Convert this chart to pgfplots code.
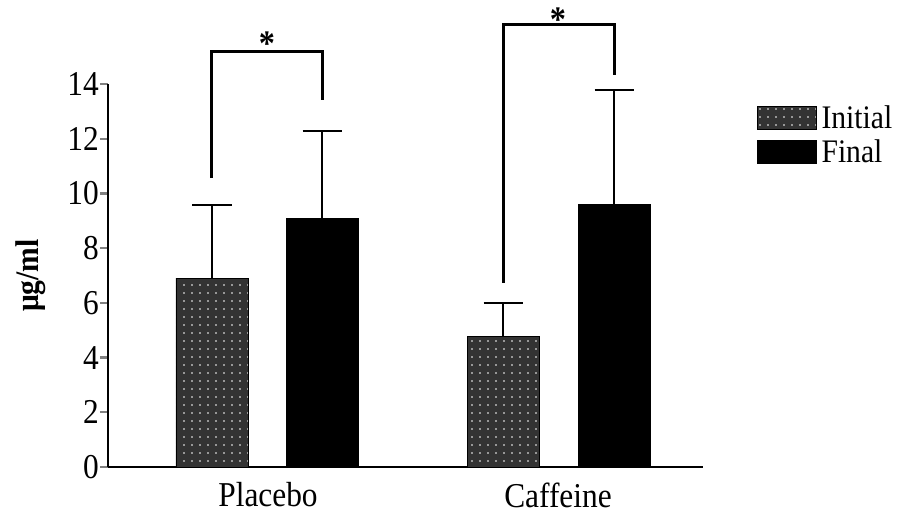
\documentclass[border=0pt]{standalone}
\usepackage{pgfplots}
\pgfplotsset{compat=1.18}
\usepackage{fontspec}
\setmainfont{Liberation Serif}[FakeStretch=0.9]
\usetikzlibrary{patterns.meta}
\definecolor{dkgray}{HTML}{333333}
\begin{document}
\begin{tikzpicture}
\begin{axis}[
  name=ax,
  scale only axis,
  width=595bp, height=383bp,
  xmin=0, xmax=595, ymin=0, ymax=14,
  axis x line=bottom, axis y line=left,
  axis line style={-, line width=2.4bp},
  clip=false,
  ytick={0,2,...,14},
  xtick={160,450},
  xticklabels={Placebo,Caffeine},
  xtick style={draw=none},
  ytick style={line width=2.4bp},
  tick align=outside,
  major tick length=8bp,
  /pgf/number format/assume math mode=true,
  tick label style={font=\fontsize{35}{40}\selectfont},
  yticklabel style={inner xsep=1bp},
  xticklabel style={yshift=-4bp},
  ylabel={\textbf{μg/ml}},
  ylabel style={font=\fontsize{33}{38}\selectfont, at={(axis description cs:-0.13,0.5)}, anchor=center},
  bar width=72,
  legend style={draw=none, fill=none, at={(axis description cs:1.09,0.95)}, anchor=north west,
    font=\fontsize{33}{36}\selectfont, inner sep=0pt, row sep=6bp,
    /tikz/every even column/.append style={column sep=4bp}},
  legend cell align=left,
  legend image code/.code={\draw[#1] (0bp,-11.5bp) rectangle (59bp,11.5bp);},
  error bars/y dir=plus,
  error bars/y explicit,
  error bars/error bar style={line width=1.3bp, black},
  error bars/error mark options={line width=2.5bp, mark size=19.5bp, black, rotate=90},
]
\addplot[ybar, bar shift=0pt, fill=dkgray, draw=black, line width=0.8bp,
  postaction={pattern={Dots[distance=8bp, radius=0.9bp]}, pattern color=white}]
  coordinates {(104,6.9) +- (0,2.68) (395,4.77) +- (0,1.22)};
\addlegendentry{\hspace{3bp}Initial}
\addplot[ybar, bar shift=0pt, fill=black, draw=black, line width=0.8bp]
  coordinates {(214,9.1) +- (0,3.18) (506,9.61) +- (0,4.17)};
\addlegendentry{\hspace{3bp}Final}
\addplot[line width=3bp, black, forget plot] coordinates {(104,10.56) (104,15.17) (214,15.17) (214,13.41)};
\addplot[line width=3bp, black, forget plot] coordinates {(395,6.73) (395,16.16) (506,16.16) (506,14.33)};
\node[font=\fontsize{36}{40}\selectfont\bfseries, anchor=north, inner sep=0pt] at (axis cs:159,15.9) {*};
\node[font=\fontsize{36}{40}\selectfont\bfseries, anchor=north, inner sep=0pt] at (axis cs:450,16.78) {*};
\end{axis}
\pgfresetboundingbox
\path[use as bounding box] ([xshift=-108bp,yshift=-50bp]ax.south west) rectangle ([xshift=199bp,yshift=84bp]ax.north east);
\end{tikzpicture}
\end{document}
